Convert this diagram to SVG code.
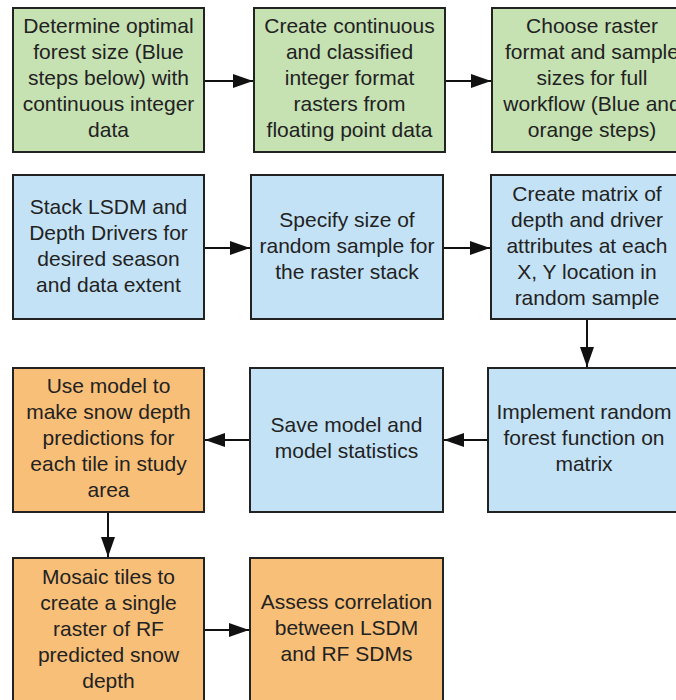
<svg xmlns="http://www.w3.org/2000/svg" width="676" height="700" viewBox="0 0 676 700">
<defs>
<marker id="ah" markerWidth="20" markerHeight="14" refX="20" refY="7" orient="auto" markerUnits="userSpaceOnUse">
<path d="M0,0 L20,7 L0,14 Z" fill="#111"/>
</marker>
<style>
.b{stroke:#222;stroke-width:2}
.g{fill:#c6e1b2}
.bl{fill:#c4e2f6}
.o{fill:#f8bf78}
text{font-family:"Liberation Sans",Arial,sans-serif;font-size:21px;fill:#222;text-anchor:middle}
.c line{stroke:#111;stroke-width:2;marker-end:url(#ah)}
</style>
</defs>
<rect width="676" height="700" fill="#fff"/>
<g id="n1"><rect class="b g" x="13" y="8" width="191" height="144"/>
<text x="108.5"><tspan x="108.5" y="33">Determine optimal</tspan><tspan x="108.5" y="59">forest size (Blue</tspan><tspan x="108.5" y="85">steps below) with</tspan><tspan x="108.5" y="111">continuous integer</tspan><tspan x="108.5" y="137">data</tspan></text></g>
<g id="n2"><rect class="b g" x="254" y="8" width="191" height="144"/>
<text><tspan x="349.5" y="33">Create continuous</tspan><tspan x="349.5" y="59">and classified</tspan><tspan x="349.5" y="85">integer format</tspan><tspan x="349.5" y="111">rasters from</tspan><tspan x="349.5" y="137">floating point data</tspan></text></g>
<g id="n3"><rect class="b g" x="492" y="8" width="193" height="144"/>
<text><tspan x="592" y="33">Choose raster</tspan><tspan x="592" y="59">format and sample</tspan><tspan x="592" y="85">sizes for full</tspan><tspan x="592" y="111">workflow (Blue and</tspan><tspan x="592" y="137">orange steps)</tspan></text></g>
<g id="n4"><rect class="b bl" x="13" y="175" width="191" height="144"/>
<text><tspan x="108.5" y="214">Stack LSDM and</tspan><tspan x="108.5" y="240">Depth Drivers for</tspan><tspan x="108.5" y="266">desired season</tspan><tspan x="108.5" y="292">and data extent</tspan></text></g>
<g id="n5"><rect class="b bl" x="251" y="175" width="192" height="144"/>
<text><tspan x="347" y="227">Specify size of</tspan><tspan x="347" y="253">random sample for</tspan><tspan x="347" y="279">the raster stack</tspan></text></g>
<g id="n6"><rect class="b bl" x="491" y="175" width="193" height="144"/>
<text><tspan x="587" y="201">Create matrix of</tspan><tspan x="587" y="227">depth and driver</tspan><tspan x="587" y="253">attributes at each</tspan><tspan x="587" y="279">X, Y location in</tspan><tspan x="587" y="305">random sample</tspan></text></g>
<g id="n7"><rect class="b bl" x="488" y="368" width="194" height="144"/>
<text><tspan x="584" y="419">Implement random</tspan><tspan x="584" y="445">forest function on</tspan><tspan x="584" y="471">matrix</tspan></text></g>
<g id="n8"><rect class="b bl" x="250" y="368" width="193" height="144"/>
<text><tspan x="346.5" y="432">Save model and</tspan><tspan x="346.5" y="458">model statistics</tspan></text></g>
<g id="n9"><rect class="b o" x="13" y="368" width="191" height="144"/>
<text><tspan x="108.5" y="393">Use model to</tspan><tspan x="108.5" y="419">make snow depth</tspan><tspan x="108.5" y="445">predictions for</tspan><tspan x="108.5" y="471">each tile in study</tspan><tspan x="108.5" y="497">area</tspan></text></g>
<g id="n10"><rect class="b o" x="13" y="558" width="191" height="146"/>
<text><tspan x="108.5" y="584">Mosaic tiles to</tspan><tspan x="108.5" y="610">create a single</tspan><tspan x="108.5" y="636">raster of RF</tspan><tspan x="108.5" y="662">predicted snow</tspan><tspan x="108.5" y="688">depth</tspan></text></g>
<g id="n11"><rect class="b o" x="250" y="558" width="193" height="146"/>
<text><tspan x="346.5" y="609">Assess correlation</tspan><tspan x="346.5" y="635">between LSDM</tspan><tspan x="346.5" y="661">and RF SDMs</tspan></text></g>
<g class="c" id="connectors">
<line x1="205" y1="81" x2="253" y2="81"/>
<line x1="446" y1="81" x2="491" y2="81"/>
<line x1="205" y1="248" x2="250" y2="248"/>
<line x1="444" y1="248" x2="490" y2="248"/>
<line x1="587" y1="320" x2="587" y2="367"/>
<line x1="487" y1="440" x2="444" y2="440"/>
<line x1="249" y1="440" x2="205" y2="440"/>
<line x1="108" y1="513" x2="108" y2="557"/>
<line x1="205" y1="630" x2="249" y2="630"/>
</g>
</svg>
